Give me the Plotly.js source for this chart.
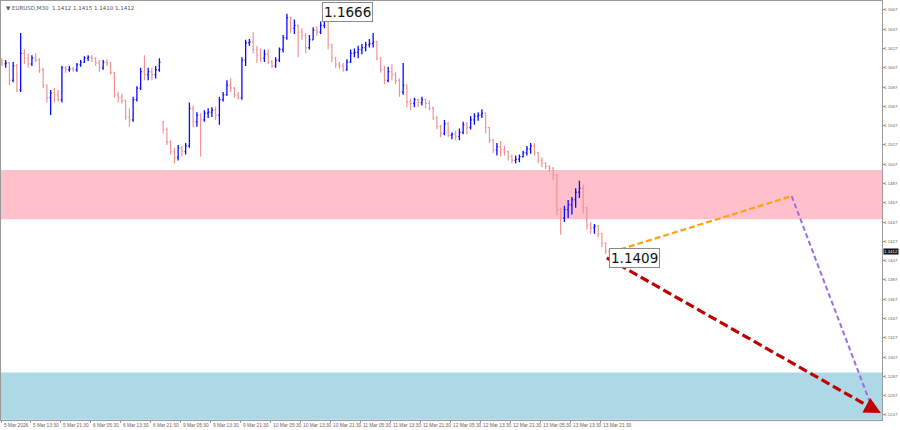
<!DOCTYPE html>
<html><head><meta charset="utf-8">
<script src="https://cdn.plot.ly/plotly-3.0.1.min.js"></script>
<style>html,body{margin:0;padding:0;background:#fff}#chart{width:900px;height:430px}</style>
</head><body><div id="chart"></div>
<script>
// EURUSD bars (one bar per hour)
const open = [
1.1613,1.1611,1.1612,1.1594,1.1609,1.1584,1.1622,1.1617,1.1611,1.1617,
1.1615,1.1605,1.1589,1.1576,1.1581,1.1579,1.1574,1.1607,1.1605,1.1606,
1.1605,1.1610,1.1613,1.1617,1.1618,1.1617,1.1612,1.1607,1.1613,1.1612,
1.1602,1.1579,1.1576,1.1573,1.1556,1.1553,1.1574,1.1586,1.1603,1.1600,
1.1603,1.1600,1.1605,1.1550,1.1543,1.1530,1.1520,1.1514,1.1524,1.1520,
1.1526,1.1565,1.1551,1.1558,1.1553,1.1560,1.1561,1.1563,1.1558,1.1574,
1.1579,1.1589,1.1586,1.1579,1.1576,1.1615,1.1633,1.1634,1.1626,1.1620,
1.1617,1.1621,1.1613,1.1609,1.1615,1.1626,1.1638,1.1659,1.1648,1.1651,
1.1644,1.1640,1.1628,1.1636,1.1646,1.1644,1.1651,1.1662,1.1631,1.1617,
1.1611,1.1609,1.1605,1.1613,1.1622,1.1623,1.1626,1.1628,1.1631,1.1632,
1.1634,1.1617,1.1605,1.1594,1.1603,1.1600,1.1594,1.1582,1.1589,1.1572,
1.1570,1.1574,1.1571,1.1574,1.1570,1.1565,1.1555,1.1546,1.1539,1.1549,
1.1537,1.1538,1.1536,1.1540,1.1548,1.1545,1.1553,1.1557,1.1558,1.1560,
1.1545,1.1532,1.1522,1.1525,1.1522,1.1520,1.1515,1.1511,1.1512,1.1515,
1.1519,1.1523,1.1526,1.1519,1.1511,1.1508,1.1505,1.1503,1.1496,1.1460,
1.1451,1.1460,1.1465,1.1470,1.1478,1.1482,1.1462,1.1444,1.1441,1.1443,
1.1435,1.1425,1.1417];
const high = [
1.1617,1.1615,1.1613,1.1613,1.1611,1.1643,1.1626,1.1622,1.1620,1.1622,
1.1617,1.1607,1.1590,1.1584,1.1586,1.1584,1.1609,1.1609,1.1609,1.1608,
1.1612,1.1615,1.1619,1.1620,1.1620,1.1618,1.1615,1.1615,1.1616,1.1613,
1.1603,1.1582,1.1580,1.1574,1.1565,1.1577,1.1588,1.1607,1.1620,1.1607,
1.1607,1.1609,1.1617,1.1552,1.1545,1.1532,1.1524,1.1527,1.1526,1.1529,
1.1571,1.1568,1.1561,1.1560,1.1563,1.1565,1.1566,1.1567,1.1577,1.1582,
1.1594,1.1596,1.1587,1.1582,1.1618,1.1636,1.1637,1.1644,1.1630,1.1627,
1.1626,1.1626,1.1615,1.1618,1.1628,1.1641,1.1663,1.1660,1.1657,1.1652,
1.1648,1.1643,1.1641,1.1649,1.1650,1.1655,1.1666,1.1663,1.1632,1.1618,
1.1613,1.1612,1.1616,1.1626,1.1627,1.1630,1.1632,1.1634,1.1637,1.1643,
1.1635,1.1618,1.1609,1.1608,1.1611,1.1603,1.1596,1.1612,1.1590,1.1575,
1.1576,1.1575,1.1577,1.1575,1.1573,1.1567,1.1557,1.1548,1.1553,1.1551,
1.1540,1.1542,1.1544,1.1551,1.1551,1.1557,1.1560,1.1561,1.1564,1.1561,
1.1546,1.1533,1.1529,1.1531,1.1526,1.1521,1.1517,1.1516,1.1517,1.1521,
1.1526,1.1529,1.1529,1.1520,1.1514,1.1509,1.1506,1.1504,1.1497,1.1462,
1.1464,1.1470,1.1473,1.1482,1.1490,1.1486,1.1463,1.1447,1.1445,1.1444,
1.1436,1.1426,1.1418];
const low = [
1.1609,1.1607,1.1589,1.1592,1.1582,1.1582,1.1611,1.1607,1.1609,1.1613,
1.1602,1.1586,1.1571,1.1558,1.1571,1.1572,1.1571,1.1602,1.1603,1.1603,
1.1603,1.1608,1.1612,1.1614,1.1613,1.1609,1.1603,1.1605,1.1609,1.1600,
1.1576,1.1571,1.1570,1.1553,1.1546,1.1551,1.1572,1.1584,1.1594,1.1594,
1.1594,1.1596,1.1603,1.1539,1.1527,1.1517,1.1508,1.1511,1.1515,1.1517,
1.1524,1.1545,1.1546,1.1515,1.1551,1.1555,1.1556,1.1553,1.1548,1.1572,
1.1578,1.1582,1.1576,1.1574,1.1574,1.1609,1.1630,1.1622,1.1612,1.1613,
1.1613,1.1611,1.1607,1.1607,1.1613,1.1623,1.1636,1.1643,1.1642,1.1618,
1.1636,1.1622,1.1626,1.1636,1.1640,1.1642,1.1648,1.1626,1.1613,1.1607,
1.1606,1.1603,1.1604,1.1612,1.1618,1.1617,1.1621,1.1624,1.1628,1.1628,
1.1615,1.1602,1.1590,1.1592,1.1594,1.1590,1.1577,1.1579,1.1566,1.1563,
1.1566,1.1566,1.1568,1.1565,1.1563,1.1553,1.1543,1.1535,1.1537,1.1535,
1.1533,1.1532,1.1532,1.1538,1.1538,1.1543,1.1548,1.1552,1.1555,1.1539,
1.1529,1.1519,1.1516,1.1515,1.1516,1.1511,1.1508,1.1508,1.1509,1.1514,
1.1516,1.1518,1.1516,1.1508,1.1504,1.1502,1.1499,1.1491,1.1454,1.1434,
1.1447,1.1451,1.1455,1.1462,1.1472,1.1456,1.1439,1.1435,1.1435,1.1431,
1.1421,1.1414,1.1409];
const close = [
1.1611,1.1612,1.1594,1.1609,1.1584,1.1622,1.1617,1.1611,1.1617,1.1615,
1.1605,1.1589,1.1576,1.1581,1.1579,1.1574,1.1607,1.1605,1.1606,1.1605,
1.1610,1.1613,1.1617,1.1618,1.1617,1.1612,1.1607,1.1613,1.1612,1.1602,
1.1579,1.1576,1.1573,1.1556,1.1553,1.1574,1.1586,1.1603,1.1600,1.1603,
1.1600,1.1605,1.1613,1.1543,1.1530,1.1520,1.1514,1.1524,1.1520,1.1526,
1.1565,1.1551,1.1558,1.1553,1.1560,1.1561,1.1563,1.1558,1.1574,1.1579,
1.1589,1.1586,1.1579,1.1576,1.1615,1.1633,1.1634,1.1626,1.1620,1.1617,
1.1621,1.1613,1.1609,1.1615,1.1626,1.1638,1.1659,1.1648,1.1651,1.1644,
1.1640,1.1628,1.1636,1.1646,1.1644,1.1651,1.1662,1.1631,1.1617,1.1611,
1.1609,1.1605,1.1613,1.1622,1.1623,1.1626,1.1628,1.1631,1.1632,1.1634,
1.1617,1.1605,1.1594,1.1603,1.1600,1.1594,1.1582,1.1589,1.1572,1.1570,
1.1574,1.1571,1.1574,1.1570,1.1565,1.1555,1.1546,1.1539,1.1549,1.1537,
1.1538,1.1536,1.1540,1.1548,1.1545,1.1553,1.1557,1.1558,1.1560,1.1545,
1.1532,1.1522,1.1525,1.1522,1.1520,1.1515,1.1511,1.1512,1.1515,1.1519,
1.1523,1.1526,1.1519,1.1511,1.1508,1.1505,1.1503,1.1496,1.1460,1.1451,
1.1460,1.1465,1.1470,1.1478,1.1482,1.1462,1.1444,1.1441,1.1443,1.1435,
1.1425,1.1417,1.1412];

const timeLabels = ["5 Mar 2026","5 Mar 13:30","5 Mar 21:30","6 Mar 05:30","6 Mar 13:30","6 Mar 21:30",
  "9 Mar 05:30","9 Mar 13:30","9 Mar 21:30","10 Mar 05:30","10 Mar 13:30","10 Mar 21:30",
  "11 Mar 05:30","11 Mar 13:30","11 Mar 21:30","12 Mar 05:30","12 Mar 13:30","12 Mar 21:30",
  "13 Mar 05:30","13 Mar 13:30","13 Mar 21:30"];

const priceTickStart = 1.1247, priceTickStep = 0.002, priceTickCount = 22;

const resistanceZone = [1.1450, 1.1501];
const targetZone = [1.1242, 1.1291];

// forecast paths: [bar index, price]
const altPathX = [162.6, 210.6];
const altPathY = [1.1416, 1.1474];
const altDropX = [210.6, 231.5];
const altDropY = [1.1474, 1.1260];
const mainPathX = [161.3, 232.0];
const mainPathY = [1.1410, 1.1254];
const mainTip = [234.4, 1.1249];

const headerText = "\u25BC EURUSD,M30  1.1412 1.1415 1.1410 1.1412";

const idx = close.map((_, i) => i);
let hiI = 0, loI = 0;
high.forEach((v, i) => { if (v > high[hiI]) hiI = i; });
low.forEach((v, i) => { if (v < low[loI]) loI = i; });

const traces = [
  {type: 'ohlc', x: idx, open: open, high: high, low: low, close: close,
   increasing: {line: {color: '#0a0aff', width: 1.3}},
   decreasing: {line: {color: '#f08c8c', width: 1.1}},
   tickwidth: 0.3, hoverinfo: 'none', showlegend: false},
  {type: 'scatter', mode: 'lines', x: altPathX, y: altPathY,
   line: {color: '#ffa010', width: 2.2, dash: '6px,3px'}, hoverinfo: 'none', showlegend: false},
  {type: 'scatter', mode: 'lines', x: altDropX, y: altDropY,
   line: {color: '#9a6ee0', width: 2, dash: '5px,3px'}, hoverinfo: 'none', showlegend: false},
  {type: 'scatter', mode: 'lines', x: mainPathX, y: mainPathY,
   line: {color: '#c00000', width: 3.2, dash: '9px,4px'}, hoverinfo: 'none', showlegend: false}
];

const tickVals = timeLabels.map((_, k) => k === 0 ? -0.24 : 7.5 + 8 * (k - 1));
const priceTicks = Array.from({length: priceTickCount}, (_, k) => +(priceTickStart + k * priceTickStep).toFixed(4));

const labelBox = {bgcolor: '#ffffff', bordercolor: '#8a8a8a', borderwidth: 1, borderpad: 1,
  font: {family: 'DejaVu Sans', size: 13.5, color: '#111'}};
const smallFont = {family: 'Liberation Sans', size: 4.8, color: '#666'};
const axisFont = {family: 'Liberation Sans', size: 4.4, color: '#666'};

const annotations = [
  Object.assign({x: hiI, y: high[hiI], xref: 'x', yref: 'y', text: high[hiI].toFixed(4),
    showarrow: false, xanchor: 'left', yanchor: 'middle', xshift: -2, yshift: -1}, labelBox),
  Object.assign({x: loI, y: low[loI], xref: 'x', yref: 'y', text: low[loI].toFixed(4),
    showarrow: false, xanchor: 'left', yanchor: 'middle', xshift: 0, yshift: 1}, labelBox),
  {x: mainTip[0], y: mainTip[1], xref: 'x', yref: 'y', axref: 'x', ayref: 'y',
   ax: mainPathX[1], ay: mainPathY[1],
   text: '', showarrow: true, arrowhead: 2, arrowsize: 1.1, arrowwidth: 3, arrowcolor: '#c00000'},
  {x: 0, y: 1, xref: 'paper', yref: 'paper', text: headerText, showarrow: false,
   xanchor: 'left', yanchor: 'top', xshift: 3, yshift: -2,
   font: {family: 'DejaVu Sans', size: 5.5, color: '#555'}}
];
timeLabels.forEach((t, k) => annotations.push({
  x: tickVals[k], y: 0, xref: 'x', yref: 'paper', text: t, showarrow: false,
  xanchor: 'left', yanchor: 'top', xshift: 1, yshift: -1, font: smallFont}));
priceTicks.forEach(p => annotations.push({
  x: 1, y: p, xref: 'paper', yref: 'y', text: p.toFixed(4), showarrow: false,
  xanchor: 'left', yanchor: 'middle', xshift: 1, borderpad: 0, font: axisFont}));
annotations.push({x: 1, y: close[close.length - 1], xref: 'paper', yref: 'y',
  text: close[close.length - 1].toFixed(4), showarrow: false, xanchor: 'left', yanchor: 'middle',
  xshift: 1, yshift: 4, bgcolor: '#111', borderpad: 0,
  font: {family: 'Liberation Sans', size: 4.4, color: '#fff'}});

const layout = {
  width: 900, height: 430,
  margin: {l: 1, r: 18, t: 1, b: 10, pad: 0},
  paper_bgcolor: '#ffffff', plot_bgcolor: '#ffffff',
  showlegend: false,
  xaxis: {
    range: [-0.24, 234.69], rangeslider: {visible: false},
    showgrid: false, zeroline: false, fixedrange: true,
    showline: true, linecolor: '#9a9a9a', linewidth: 1, mirror: true,
    tickmode: 'array', tickvals: tickVals, showticklabels: false,
    ticks: 'outside', ticklen: 2, tickcolor: '#9a9a9a'
  },
  yaxis: {
    range: [1.12418, 1.16763], side: 'right',
    showgrid: false, zeroline: false, fixedrange: true,
    showline: true, linecolor: '#9a9a9a', linewidth: 1, mirror: true,
    tickmode: 'array', tickvals: priceTicks, showticklabels: false,
    ticks: 'outside', ticklen: 2, tickcolor: '#9a9a9a'
  },
  shapes: [
    {type: 'rect', xref: 'paper', x0: 0, x1: 1, yref: 'y', y0: resistanceZone[0], y1: resistanceZone[1],
     fillcolor: '#ffc0cb', line: {width: 0}, layer: 'below'},
    {type: 'rect', xref: 'paper', x0: 0, x1: 1, yref: 'y', y0: targetZone[0], y1: targetZone[1],
     fillcolor: '#add8e6', line: {width: 0}, layer: 'below'}
  ],
  annotations: annotations
};

Plotly.newPlot('chart', traces, layout, {staticPlot: true, displayModeBar: false});
</script>
</body></html>
